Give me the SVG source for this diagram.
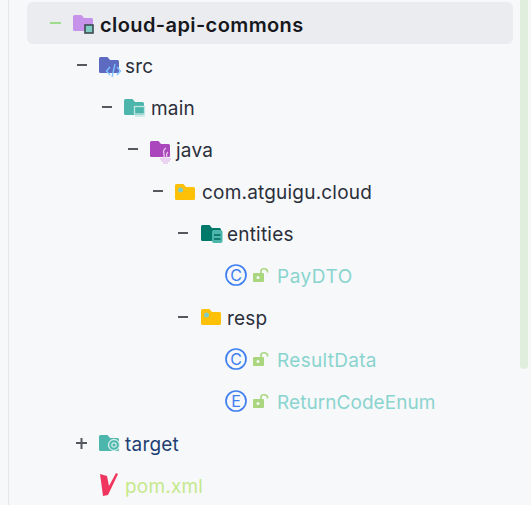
<svg xmlns="http://www.w3.org/2000/svg" width="531" height="505" viewBox="0 0 531 505">
<style>
text{font-family:Inter,"Noto Sans","Liberation Sans",sans-serif;font-size:19px;letter-spacing:.2px;fill:#2b2f3a}
.t{fill:#8ad4cf}
.d{stroke:#55585f;stroke-width:2;fill:none}
.c{fill:none;stroke:#3f7ff0;stroke-width:1.7}
.l{font-size:16px;letter-spacing:0;fill:#3f7ff0;text-anchor:middle}
.lb{fill:#a9d67f}
.ls{fill:none;stroke:#a9d67f;stroke-width:1.6}
</style>
<defs>
<path id="f" d="M1.5 0H8.5L11 3H18.500Q20 3 20 4.500V14.500Q20 16 18.500 16H1.500Q0 16 0 14.500V1.500Q0 0 1.500 0Z"/>
<g id="lock"><rect x="0" y="5" width="11" height="9" rx="1" class="lb"/><circle cx="5" cy="9.500" r="1.500" fill="#f7f8fa"/><path d="M8 5V3Q8 .8 11 .8T14.500 3V4.500" class="ls"/></g>
</defs>
<rect width="531" height="505" fill="#f7f8fa"/>
<rect x="8" y="0" width="1" height="505" fill="#e6e7ea"/>
<rect x="27" y="2" width="486" height="42" rx="6" fill="#ebecef"/>
<rect x="520" y="-8" width="8" height="377" rx="4" fill="#e0eedd"/>
<g id="connectors">
<path d="M50 23H61" stroke="#9cdc8a" stroke-width="2" fill="none"/>
<path class="d" d="M77 65H87M102 107H112M128 149H138M153 191H163M178 233H188M178 317H188M76 443H87M81.500 438V449"/>
</g>
<g id="n-root">
<use href="#f" x="73" y="15" fill="#c792ea"/>
<rect x="85" y="25" width="8" height="8" fill="#80cbc4" stroke="#3c4a50" stroke-width="1.600"/>
<text x="100" y="31.500" style="font-size:20px;letter-spacing:.4px;font-weight:600;fill:#16181d">cloud-api-commons</text>
</g>
<g id="n-src">
<use href="#f" x="99" y="57" fill="#5c6bc0"/>
<path d="M110 67L106.500 71L110 75M117 67L120.500 71L117 75M115 64L112 77" fill="none" stroke="#7fc4ff" stroke-width="1.300"/>
<text x="125" y="72.500">src</text>
</g>
<g id="n-main">
<use href="#f" x="124" y="99" fill="#4db6ac"/>
<rect x="134.500" y="106.500" width="10" height="7.500" fill="#4db6ac" stroke="#bfe6e1" stroke-width="1.300"/>
<path d="M135 116H145" stroke="#bfe6e1" stroke-width="1.300"/>
<text x="151" y="114.500">main</text>
</g>
<g id="n-java">
<use href="#f" x="150" y="141" fill="#ab47bc"/>
<path d="M166 148C160 152 167 154 163 158M168 152C165 154 168 155 166 158M160 159H171M161 161H170M163 163H168" fill="none" stroke="#e8c8ee" stroke-width="1.300"/>
<text x="176" y="156.500">java</text>
</g>
<g id="n-pkg">
<use href="#f" x="175" y="184" fill="#ffc107"/>
<circle cx="180.500" cy="190" r="2.500" fill="#80cbc4"/>
<text x="202" y="198.500">com.atguigu.cloud</text>
</g>
<g id="n-entities">
<use href="#f" x="201" y="225" fill="#00796b"/>
<rect x="212" y="230" width="10.500" height="13" rx="2" fill="#4db6ac"/>
<path d="M214 235H220.500M214 239H220.500" stroke="#00695c" stroke-width="1.500"/>
<text x="227" y="240.500">entities</text>
</g>
<g id="n-paydto">
<circle class="c" cx="236" cy="275" r="10"/>
<text class="l" x="236" y="281">C</text>
<use href="#lock" x="253" y="268"/>
<text class="t" x="277" y="283" style="letter-spacing:.5px">PayDTO</text>
</g>
<g id="n-resp">
<use href="#f" x="201" y="309" fill="#ffc107"/>
<circle cx="206.500" cy="315" r="2.500" fill="#80cbc4"/>
<text x="227" y="324.500">resp</text>
</g>
<g id="n-resultdata">
<circle class="c" cx="236" cy="359" r="10"/>
<text class="l" x="236" y="365">C</text>
<use href="#lock" x="253" y="352"/>
<text class="t" x="277" y="366.500" style="letter-spacing:.3px">ResultData</text>
</g>
<g id="n-returncode">
<circle class="c" cx="236" cy="401" r="10"/>
<text class="l" x="236" y="407">E</text>
<use href="#lock" x="253" y="394"/>
<text class="t" x="277" y="408.500" style="letter-spacing:.06px">ReturnCodeEnum</text>
</g>
<g id="n-target">
<use href="#f" x="99" y="435" fill="#4db6ac"/>
<circle cx="114" cy="445" r="5.500" fill="#4db6ac" stroke="#d5efec" stroke-width="1.300"/>
<circle cx="114" cy="445" r="2.200" fill="none" stroke="#d5efec" stroke-width="1.200"/>
<text x="125" y="450.500" style="fill:#1d3f72">target</text>
</g>
<g id="n-pom">
<path d="M100 474L107 476L109 486L116 473L118 474L108 495L103 496Z" fill="#f0365f"/>
<text x="125" y="492.500" style="fill:#c5e98a">pom.xml</text>
</g>
</svg>
